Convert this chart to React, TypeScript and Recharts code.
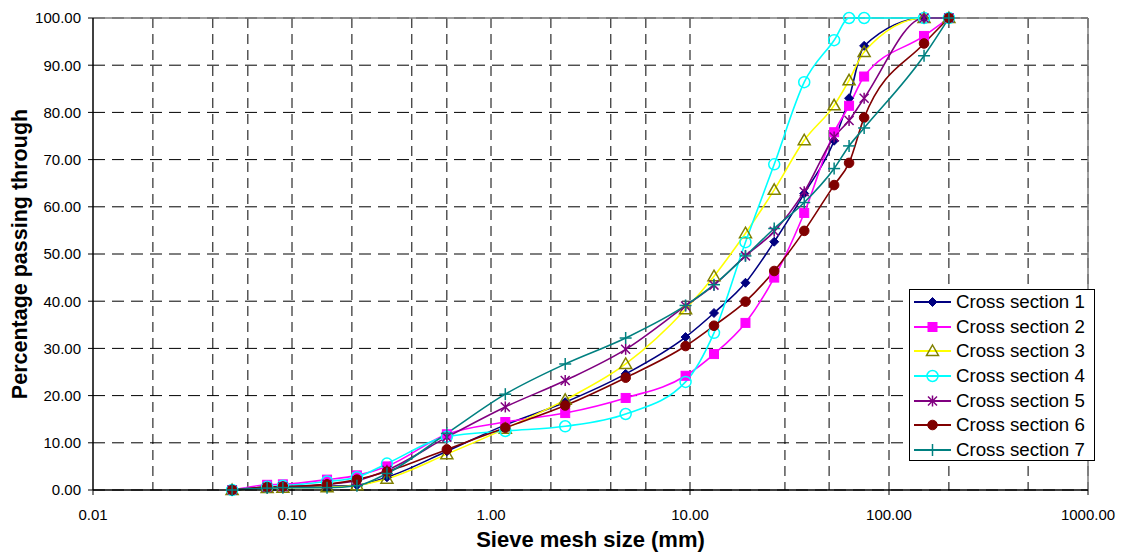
import React from 'react';
import { LineChart, Line, XAxis, YAxis, CartesianGrid, Legend, ReferenceLine } from 'recharts';

const sizes = [0.05, 0.075, 0.09, 0.15, 0.212, 0.3, 0.6, 1.18, 2.36, 4.75, 9.5, 13.2, 19, 26.5, 37.5, 53, 63, 75, 150, 200];
const cs1 = [0, 0.5, 0.6, 0.8, 1.0, 2.7, 8.2, 13.8, 18.6, 24.6, 32.4, 37.5, 43.9, 52.6, 62.8, 74.0, 83.0, 94.1, 100, 100];
const cs2 = [0, 1.1, 1.2, 2.2, 3.1, 5.0, 11.8, 14.4, 16.3, 19.5, 24.2, 28.8, 35.4, 45.0, 58.7, 75.8, 81.4, 87.6, 96.2, 100];
const cs3 = [0, 0.4, 0.5, 0.6, 1.0, 2.4, 7.6, 13.0, 19.1, 26.7, 38.3, 45.3, 54.4, 63.6, 74.1, 81.5, 86.8, 92.8, 100, 100];
const cs4 = [0, 0.7, 0.9, 1.8, 2.7, 5.6, 11.3, 12.5, 13.5, 16.1, 22.9, 33.3, 52.5, 69.0, 86.4, 95.3, 100, 100, 100, 100];
const cs5 = [0, 0.6, 0.7, 1.2, 2.0, 4.2, 11.2, 17.6, 23.2, 29.8, 39.0, 43.4, 49.6, 54.8, 63.2, 74.8, 78.3, 83.0, 100, 100];
const cs6 = [0, 0.6, 0.7, 1.2, 2.2, 3.9, 8.6, 13.2, 17.9, 23.8, 30.5, 34.8, 39.9, 46.4, 54.9, 64.6, 69.3, 78.9, 94.6, 100];
const cs7 = [0, 0.4, 0.5, 0.5, 0.9, 3.5, 12.0, 20.3, 26.7, 32.2, 39.1, 43.5, 49.6, 55.4, 60.9, 68.1, 72.9, 76.7, 92.0, 100];

const seriesNames = ['Cross section 1', 'Cross section 2', 'Cross section 3', 'Cross section 4', 'Cross section 5', 'Cross section 6', 'Cross section 7'];
const xTicks = [0.01, 0.1, 1, 10, 100, 1000];
const yTicks = [0, 10, 20, 30, 40, 50, 60, 70, 80, 90, 100];
const minorMultipliers = [1, 2, 3, 4, 5, 6, 7, 8, 9];
const decades = [0.01, 0.1, 1, 10, 100];

const allSeries = [cs1, cs2, cs3, cs4, cs5, cs6, cs7];
const data = sizes.map((s, i) => {
  const row: any = { size: s };
  allSeries.forEach((arr, k) => { row['s' + (k + 1)] = arr[i]; });
  return row;
});

const verticalValues: number[] = [];
decades.forEach((d) => minorMultipliers.forEach((m) => { const v = +(d * m).toPrecision(3); if (v > 0.01) verticalValues.push(v); }));
verticalValues.push(1000);

type MarkerKind = 'diamond' | 'square' | 'triangle' | 'circle' | 'star' | 'dot' | 'plus';

const drawMarker = (kind: MarkerKind, cx: number, cy: number, key?: any) => {
  switch (kind) {
    case 'diamond':
      return <path key={key} d={`M${cx},${cy - 4.5}L${cx + 4.5},${cy}L${cx},${cy + 4.5}L${cx - 4.5},${cy}Z`} fill="#000080" stroke="#000080" strokeWidth={1} />;
    case 'square':
      return <rect key={key} x={cx - 4.5} y={cy - 4.5} width={9} height={9} fill="#FF00FF" stroke="#FF00FF" strokeWidth={1} />;
    case 'triangle':
      return <path key={key} d={`M${cx},${cy - 6}L${cx + 6},${cy + 4.5}L${cx - 6},${cy + 4.5}Z`} fill="none" stroke="#808000" strokeWidth={1.5} />;
    case 'circle':
      return <circle key={key} cx={cx} cy={cy} r={5.5} fill="none" stroke="#00FFFF" strokeWidth={1.5} />;
    case 'star':
      return (
        <g key={key} stroke="#800080" strokeWidth={1.5}>
          <line x1={cx - 4.5} y1={cy - 4.5} x2={cx + 4.5} y2={cy + 4.5} />
          <line x1={cx - 4.5} y1={cy + 4.5} x2={cx + 4.5} y2={cy - 4.5} />
          <line x1={cx} y1={cy - 5.5} x2={cx} y2={cy + 5.5} />
        </g>
      );
    case 'dot':
      return <circle key={key} cx={cx} cy={cy} r={4.8} fill="#800000" stroke="#800000" strokeWidth={1} />;
    case 'plus':
    default:
      return (
        <g key={key} stroke="#008080" strokeWidth={1.5}>
          <line x1={cx - 6} y1={cy} x2={cx + 6} y2={cy} />
          <line x1={cx} y1={cy - 6} x2={cx} y2={cy + 6} />
        </g>
      );
  }
};

const seriesStyle: { key: string; color: string; marker: MarkerKind }[] = [
  { key: 's1', color: '#000080', marker: 'diamond' },
  { key: 's2', color: '#FF00FF', marker: 'square' },
  { key: 's3', color: '#FFFF00', marker: 'triangle' },
  { key: 's4', color: '#00FFFF', marker: 'circle' },
  { key: 's5', color: '#800080', marker: 'star' },
  { key: 's6', color: '#800000', marker: 'dot' },
  { key: 's7', color: '#008080', marker: 'plus' },
];

const makeDot = (kind: MarkerKind) => (props: any) => {
  const { cx, cy, index } = props;
  if (cx == null || cy == null) return <g key={`e${index}`} />;
  return drawMarker(kind, cx, cy, `${kind}-${index}`);
};

const LegendBox = () => (
  <div
    style={{
      border: '1px solid #000',
      background: '#fff',
      width: 186,
      height: 172,
      boxSizing: 'border-box',
      paddingTop: 0,
    }}
  >
    {seriesStyle.map((s, i) => (
      <div key={s.key} style={{ display: 'flex', alignItems: 'center', height: 24.6, marginLeft: 4 }}>
        <svg width={38} height={20} style={{ flex: 'none' }}>
          <line x1={0} y1={10} x2={37} y2={10} stroke={s.color} strokeWidth={2} />
          {drawMarker(s.marker, 18.5, 10)}
        </svg>
        <span style={{ fontSize: 18.7, color: '#000', marginLeft: 4, whiteSpace: 'nowrap', lineHeight: '20px' }}>{seriesNames[i]}</span>
      </div>
    ))}
  </div>
);

export default function App() {
  return (
    <div style={{ position: 'absolute', left: 0, top: 0, width: 1128, height: 554, background: '#fff', fontFamily: '"Liberation Sans", Arial, sans-serif' }}>
      <LineChart width={1128} height={554} data={data} margin={{ top: 18, right: 40, bottom: 14, left: 8 }}>
        <CartesianGrid horizontal={true} vertical={false} stroke="#000" strokeDasharray="12 7" />
        <CartesianGrid horizontal={false} vertical={true} verticalValues={verticalValues} stroke="#000" strokeDasharray="10 6" />
        <XAxis
          dataKey="size"
          type="number"
          scale="log"
          domain={[0.01, 1000]}
          ticks={xTicks}
          allowDataOverflow
          height={50}
          tickFormatter={(v: number) => v.toFixed(2)}
          tick={{ fontSize: 15, fill: '#000' }}
          tickSize={5}
          tickMargin={14}
          axisLine={{ stroke: '#000', strokeWidth: 1.5 }}
          tickLine={{ stroke: '#000' }}
          label={{ value: 'Sieve mesh size (mm)', position: 'insideBottom', offset: -7, style: { fontSize: 22, fontWeight: 'bold', fill: '#000' } }}
        />
        <YAxis
          type="number"
          domain={[0, 100]}
          ticks={yTicks}
          width={85}
          tickFormatter={(v: number) => v.toFixed(2)}
          tick={{ fontSize: 15, fill: '#000' }}
          tickSize={5}
          tickMargin={7}
          axisLine={{ stroke: '#000', strokeWidth: 1.5 }}
          tickLine={{ stroke: '#000' }}
          label={{ value: 'Percentage passing through', angle: -90, position: 'insideLeft', offset: 11, style: { fontSize: 21.5, fontWeight: 'bold', fill: '#000', textAnchor: 'middle' } }}
        />
        <ReferenceLine y={100} stroke="#808080" strokeWidth={1.5} />
        <ReferenceLine x={1000} stroke="#808080" strokeWidth={1.5} />
        {seriesStyle.map((s, i) => (
          <Line
            key={s.key}
            dataKey={s.key}
            name={seriesNames[i]}
            type="monotone"
            stroke={s.color}
            strokeWidth={1.6}
            dot={makeDot(s.marker)}
            activeDot={false}
            isAnimationActive={false}
          />
        ))}
        <Legend
          layout="vertical"
          align="center"
          verticalAlign="middle"
          content={() => <LegendBox />}
          wrapperStyle={{ position: 'absolute', left: 909, top: 289, width: 188, height: 174 }}
        />
      </LineChart>
    </div>
  );
}
